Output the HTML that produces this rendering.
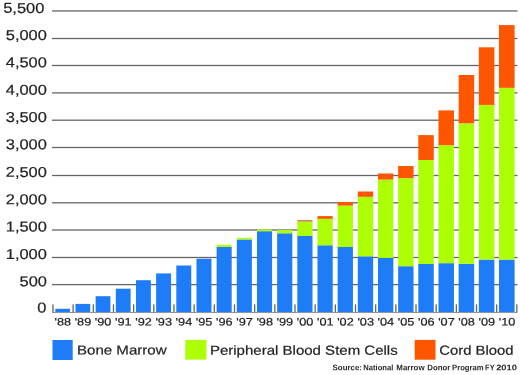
<!DOCTYPE html><html><head><meta charset="utf-8"><style>html,body{margin:0;padding:0;background:#fff;width:520px;height:375px;overflow:hidden}svg{display:block;will-change:transform}text{font-family:"Liberation Sans",sans-serif;text-rendering:geometricPrecision}text.t{stroke:#222;stroke-width:0.2px}</style></head><body>
<svg width="520" height="375" viewBox="0 0 520 375">
<rect x="52" y="10.30" width="465.5" height="1.3" fill="#666"/>
<rect x="52" y="37.85" width="465.5" height="1.3" fill="#666"/>
<rect x="52" y="64.85" width="465.5" height="1.3" fill="#666"/>
<rect x="52" y="92.25" width="465.5" height="1.3" fill="#666"/>
<rect x="52" y="119.55" width="465.5" height="1.3" fill="#666"/>
<rect x="52" y="146.85" width="465.5" height="1.3" fill="#666"/>
<rect x="52" y="174.85" width="465.5" height="1.3" fill="#666"/>
<rect x="52" y="202.15" width="465.5" height="1.3" fill="#666"/>
<rect x="52" y="229.35" width="465.5" height="1.3" fill="#666"/>
<rect x="52" y="256.85" width="465.5" height="1.3" fill="#666"/>
<rect x="52" y="283.95" width="465.5" height="1.3" fill="#666"/>
<rect x="52" y="312.00" width="465.5" height="0.9" fill="#8a8a8a"/>
<rect x="52.30" y="304.4" width="1.3" height="7.8" fill="#626662"/>
<rect x="72.47" y="304.4" width="1.3" height="7.8" fill="#626662"/>
<rect x="92.64" y="304.4" width="1.3" height="7.8" fill="#626662"/>
<rect x="112.81" y="304.4" width="1.3" height="7.8" fill="#626662"/>
<rect x="132.98" y="304.4" width="1.3" height="7.8" fill="#626662"/>
<rect x="153.15" y="304.4" width="1.3" height="7.8" fill="#626662"/>
<rect x="173.32" y="304.4" width="1.3" height="7.8" fill="#626662"/>
<rect x="193.49" y="304.4" width="1.3" height="7.8" fill="#626662"/>
<rect x="213.66" y="304.4" width="1.3" height="7.8" fill="#626662"/>
<rect x="233.83" y="304.4" width="1.3" height="7.8" fill="#626662"/>
<rect x="254.00" y="304.4" width="1.3" height="7.8" fill="#626662"/>
<rect x="274.17" y="304.4" width="1.3" height="7.8" fill="#626662"/>
<rect x="294.34" y="304.4" width="1.3" height="7.8" fill="#626662"/>
<rect x="314.51" y="304.4" width="1.3" height="7.8" fill="#626662"/>
<rect x="334.68" y="304.4" width="1.3" height="7.8" fill="#626662"/>
<rect x="354.85" y="304.4" width="1.3" height="7.8" fill="#626662"/>
<rect x="375.02" y="304.4" width="1.3" height="7.8" fill="#626662"/>
<rect x="395.19" y="304.4" width="1.3" height="7.8" fill="#626662"/>
<rect x="415.36" y="304.4" width="1.3" height="7.8" fill="#626662"/>
<rect x="435.53" y="304.4" width="1.3" height="7.8" fill="#626662"/>
<rect x="455.70" y="304.4" width="1.3" height="7.8" fill="#626662"/>
<rect x="475.87" y="304.4" width="1.3" height="7.8" fill="#626662"/>
<rect x="496.04" y="304.4" width="1.3" height="7.8" fill="#626662"/>
<rect x="516.21" y="304.4" width="1.3" height="7.8" fill="#626662"/>
<rect x="55.30" y="308.80" width="14.70" height="3.20" fill="#1e7cf7"/>
<rect x="75.47" y="303.90" width="14.74" height="8.10" fill="#1e7cf7"/>
<rect x="95.63" y="296.20" width="14.78" height="15.80" fill="#1e7cf7"/>
<rect x="115.80" y="288.70" width="14.83" height="23.30" fill="#1e7cf7"/>
<rect x="135.97" y="280.20" width="14.87" height="31.80" fill="#1e7cf7"/>
<rect x="156.13" y="273.40" width="14.91" height="38.60" fill="#1e7cf7"/>
<rect x="176.30" y="265.50" width="14.95" height="46.50" fill="#1e7cf7"/>
<rect x="196.47" y="258.75" width="14.99" height="53.25" fill="#1e7cf7"/>
<rect x="216.64" y="246.90" width="15.04" height="65.10" fill="#1e7cf7"/>
<rect x="216.64" y="244.80" width="15.04" height="2.10" fill="#acff04"/>
<rect x="236.80" y="239.50" width="15.08" height="72.50" fill="#1e7cf7"/>
<rect x="236.80" y="237.80" width="15.08" height="1.70" fill="#acff04"/>
<rect x="256.97" y="231.20" width="15.12" height="80.80" fill="#1e7cf7"/>
<rect x="256.97" y="229.40" width="15.12" height="1.80" fill="#acff04"/>
<rect x="277.14" y="233.30" width="15.16" height="78.70" fill="#1e7cf7"/>
<rect x="277.14" y="230.00" width="15.16" height="3.30" fill="#acff04"/>
<rect x="297.30" y="236.00" width="15.20" height="76.00" fill="#1e7cf7"/>
<rect x="297.30" y="221.50" width="15.20" height="14.50" fill="#acff04"/>
<rect x="297.30" y="220.20" width="15.20" height="1.30" fill="#c86a28"/>
<rect x="317.47" y="245.30" width="15.25" height="66.70" fill="#1e7cf7"/>
<rect x="317.47" y="218.80" width="15.25" height="26.50" fill="#acff04"/>
<rect x="317.47" y="216.10" width="15.25" height="2.70" fill="#fd5500"/>
<rect x="337.64" y="247.00" width="15.29" height="65.00" fill="#1e7cf7"/>
<rect x="337.64" y="205.60" width="15.29" height="41.40" fill="#acff04"/>
<rect x="337.64" y="202.00" width="15.29" height="3.60" fill="#fd5500"/>
<rect x="357.81" y="256.30" width="15.33" height="55.70" fill="#1e7cf7"/>
<rect x="357.81" y="196.80" width="15.33" height="59.50" fill="#acff04"/>
<rect x="357.81" y="191.50" width="15.33" height="5.30" fill="#fd5500"/>
<rect x="377.97" y="257.90" width="15.37" height="54.10" fill="#1e7cf7"/>
<rect x="377.97" y="179.60" width="15.37" height="78.30" fill="#acff04"/>
<rect x="377.97" y="173.50" width="15.37" height="6.10" fill="#fd5500"/>
<rect x="398.14" y="266.20" width="15.41" height="45.80" fill="#1e7cf7"/>
<rect x="398.14" y="178.10" width="15.41" height="88.10" fill="#acff04"/>
<rect x="398.14" y="166.00" width="15.41" height="12.10" fill="#fd5500"/>
<rect x="418.31" y="264.00" width="15.46" height="48.00" fill="#1e7cf7"/>
<rect x="418.31" y="160.00" width="15.46" height="104.00" fill="#acff04"/>
<rect x="418.31" y="135.10" width="15.46" height="24.90" fill="#fd5500"/>
<rect x="438.47" y="263.20" width="15.50" height="48.80" fill="#1e7cf7"/>
<rect x="438.47" y="145.10" width="15.50" height="118.10" fill="#acff04"/>
<rect x="438.47" y="110.40" width="15.50" height="34.70" fill="#fd5500"/>
<rect x="458.64" y="263.80" width="15.54" height="48.20" fill="#1e7cf7"/>
<rect x="458.64" y="123.30" width="15.54" height="140.50" fill="#acff04"/>
<rect x="458.64" y="75.00" width="15.54" height="48.30" fill="#fd5500"/>
<rect x="478.81" y="259.60" width="15.58" height="52.40" fill="#1e7cf7"/>
<rect x="478.81" y="104.90" width="15.58" height="154.70" fill="#acff04"/>
<rect x="478.81" y="47.30" width="15.58" height="57.60" fill="#fd5500"/>
<rect x="498.97" y="259.60" width="15.62" height="52.40" fill="#1e7cf7"/>
<rect x="498.97" y="87.80" width="15.62" height="171.80" fill="#acff04"/>
<rect x="498.97" y="25.10" width="15.62" height="62.70" fill="#fd5500"/>
<text x="0" y="0" transform="translate(44.3,12.90) scale(1.145,1) skewY(0.05)" text-anchor="end" font-size="14.35" fill="#222" class="t">5,500</text>
<text x="0" y="0" transform="translate(46.9,40.10) scale(1.145,1) skewY(0.05)" text-anchor="end" font-size="14.35" fill="#222" class="t">5,000</text>
<text x="0" y="0" transform="translate(46.9,67.30) scale(1.145,1) skewY(0.05)" text-anchor="end" font-size="14.35" fill="#222" class="t">4,500</text>
<text x="0" y="0" transform="translate(46.9,94.70) scale(1.145,1) skewY(0.05)" text-anchor="end" font-size="14.35" fill="#222" class="t">4,000</text>
<text x="0" y="0" transform="translate(46.9,122.10) scale(1.145,1) skewY(0.05)" text-anchor="end" font-size="14.35" fill="#222" class="t">3,500</text>
<text x="0" y="0" transform="translate(46.9,149.30) scale(1.145,1) skewY(0.05)" text-anchor="end" font-size="14.35" fill="#222" class="t">3,000</text>
<text x="0" y="0" transform="translate(46.9,176.90) scale(1.145,1) skewY(0.05)" text-anchor="end" font-size="14.35" fill="#222" class="t">2,500</text>
<text x="0" y="0" transform="translate(46.9,204.20) scale(1.145,1) skewY(0.05)" text-anchor="end" font-size="14.35" fill="#222" class="t">2,000</text>
<text x="0" y="0" transform="translate(46.9,231.50) scale(1.145,1) skewY(0.05)" text-anchor="end" font-size="14.35" fill="#222" class="t">1,500</text>
<text x="0" y="0" transform="translate(46.9,259.00) scale(1.145,1) skewY(0.05)" text-anchor="end" font-size="14.35" fill="#222" class="t">1,000</text>
<text x="0" y="0" transform="translate(46.9,286.20) scale(1.145,1) skewY(0.05)" text-anchor="end" font-size="14.35" fill="#222" class="t">500</text>
<text x="0" y="0" transform="translate(46.4,312.40) scale(1.145,1) skewY(0.05)" text-anchor="end" font-size="14.35" fill="#222" class="t">0</text>
<text x="0" y="0" transform="translate(62.75,325.6) scale(1.18,1) skewY(0.05)" text-anchor="middle" font-size="10.8" fill="#222" class="t">'88</text>
<text x="0" y="0" transform="translate(82.94,325.6) scale(1.18,1) skewY(0.05)" text-anchor="middle" font-size="10.8" fill="#222" class="t">'89</text>
<text x="0" y="0" transform="translate(103.14,325.6) scale(1.18,1) skewY(0.05)" text-anchor="middle" font-size="10.8" fill="#222" class="t">'90</text>
<text x="0" y="0" transform="translate(123.34,325.6) scale(1.18,1) skewY(0.05)" text-anchor="middle" font-size="10.8" fill="#222" class="t">'91</text>
<text x="0" y="0" transform="translate(143.53,325.6) scale(1.18,1) skewY(0.05)" text-anchor="middle" font-size="10.8" fill="#222" class="t">'92</text>
<text x="0" y="0" transform="translate(163.72,325.6) scale(1.18,1) skewY(0.05)" text-anchor="middle" font-size="10.8" fill="#222" class="t">'93</text>
<text x="0" y="0" transform="translate(183.92,325.6) scale(1.18,1) skewY(0.05)" text-anchor="middle" font-size="10.8" fill="#222" class="t">'94</text>
<text x="0" y="0" transform="translate(204.12,325.6) scale(1.18,1) skewY(0.05)" text-anchor="middle" font-size="10.8" fill="#222" class="t">'95</text>
<text x="0" y="0" transform="translate(224.31,325.6) scale(1.18,1) skewY(0.05)" text-anchor="middle" font-size="10.8" fill="#222" class="t">'96</text>
<text x="0" y="0" transform="translate(244.50,325.6) scale(1.18,1) skewY(0.05)" text-anchor="middle" font-size="10.8" fill="#222" class="t">'97</text>
<text x="0" y="0" transform="translate(264.70,325.6) scale(1.18,1) skewY(0.05)" text-anchor="middle" font-size="10.8" fill="#222" class="t">'98</text>
<text x="0" y="0" transform="translate(284.89,325.6) scale(1.18,1) skewY(0.05)" text-anchor="middle" font-size="10.8" fill="#222" class="t">'99</text>
<text x="0" y="0" transform="translate(305.09,325.6) scale(1.18,1) skewY(0.05)" text-anchor="middle" font-size="10.8" fill="#222" class="t">'00</text>
<text x="0" y="0" transform="translate(325.29,325.6) scale(1.18,1) skewY(0.05)" text-anchor="middle" font-size="10.8" fill="#222" class="t">'01</text>
<text x="0" y="0" transform="translate(345.48,325.6) scale(1.18,1) skewY(0.05)" text-anchor="middle" font-size="10.8" fill="#222" class="t">'02</text>
<text x="0" y="0" transform="translate(365.68,325.6) scale(1.18,1) skewY(0.05)" text-anchor="middle" font-size="10.8" fill="#222" class="t">'03</text>
<text x="0" y="0" transform="translate(385.87,325.6) scale(1.18,1) skewY(0.05)" text-anchor="middle" font-size="10.8" fill="#222" class="t">'04</text>
<text x="0" y="0" transform="translate(406.06,325.6) scale(1.18,1) skewY(0.05)" text-anchor="middle" font-size="10.8" fill="#222" class="t">'05</text>
<text x="0" y="0" transform="translate(426.26,325.6) scale(1.18,1) skewY(0.05)" text-anchor="middle" font-size="10.8" fill="#222" class="t">'06</text>
<text x="0" y="0" transform="translate(446.45,325.6) scale(1.18,1) skewY(0.05)" text-anchor="middle" font-size="10.8" fill="#222" class="t">'07</text>
<text x="0" y="0" transform="translate(466.65,325.6) scale(1.18,1) skewY(0.05)" text-anchor="middle" font-size="10.8" fill="#222" class="t">'08</text>
<text x="0" y="0" transform="translate(486.85,325.6) scale(1.18,1) skewY(0.05)" text-anchor="middle" font-size="10.8" fill="#222" class="t">'09</text>
<text x="0" y="0" transform="translate(507.04,325.6) scale(1.18,1) skewY(0.05)" text-anchor="middle" font-size="10.8" fill="#222" class="t">'10</text>
<rect x="52.5" y="340" width="20.2" height="20" fill="#1e7cf7"/>
<text transform="translate(77.0,354.5) scale(1.15,1) skewY(0.05)" font-size="13.1" fill="#222" class="t">Bone Marrow</text>
<rect x="185.3" y="339.9" width="21.1" height="19.7" fill="#acff04"/>
<text transform="translate(209.9,354.7) scale(1.147,1) skewY(0.05)" font-size="13.1" fill="#222" class="t">Peripheral Blood Stem Cells</text>
<rect x="414.7" y="339.9" width="20.8" height="19.8" fill="#fd5500"/>
<text transform="translate(439.3,354.7) scale(1.134,1) skewY(0.05)" font-size="13.1" fill="#222" class="t">Cord Blood</text>
<text transform="rotate(0.05 332.60 370.2)" x="332.60" y="370.2" textLength="29.40" lengthAdjust="spacingAndGlyphs" font-size="8.1" font-weight="bold" fill="#2a2a2a">Source:</text>
<text transform="rotate(0.05 363.30 370.2)" x="363.30" y="370.2" textLength="30.10" lengthAdjust="spacingAndGlyphs" font-size="8.1" font-weight="bold" fill="#2a2a2a">National</text>
<text transform="rotate(0.05 396.30 370.2)" x="396.30" y="370.2" textLength="28.30" lengthAdjust="spacingAndGlyphs" font-size="8.1" font-weight="bold" fill="#2a2a2a">Marrow</text>
<text transform="rotate(0.05 427.30 370.2)" x="427.30" y="370.2" textLength="23.00" lengthAdjust="spacingAndGlyphs" font-size="8.1" font-weight="bold" fill="#2a2a2a">Donor</text>
<text transform="rotate(0.05 452.10 370.2)" x="452.10" y="370.2" textLength="31.50" lengthAdjust="spacingAndGlyphs" font-size="8.1" font-weight="bold" fill="#2a2a2a">Program</text>
<text transform="rotate(0.05 485.10 370.2)" x="485.10" y="370.2" textLength="9.50" lengthAdjust="spacingAndGlyphs" font-size="8.1" font-weight="bold" fill="#2a2a2a">FY</text>
<text transform="rotate(0.05 496.20 370.2)" x="496.20" y="370.2" textLength="20.70" lengthAdjust="spacingAndGlyphs" font-size="8.1" font-weight="bold" fill="#2a2a2a">2010</text>
</svg></body></html>
